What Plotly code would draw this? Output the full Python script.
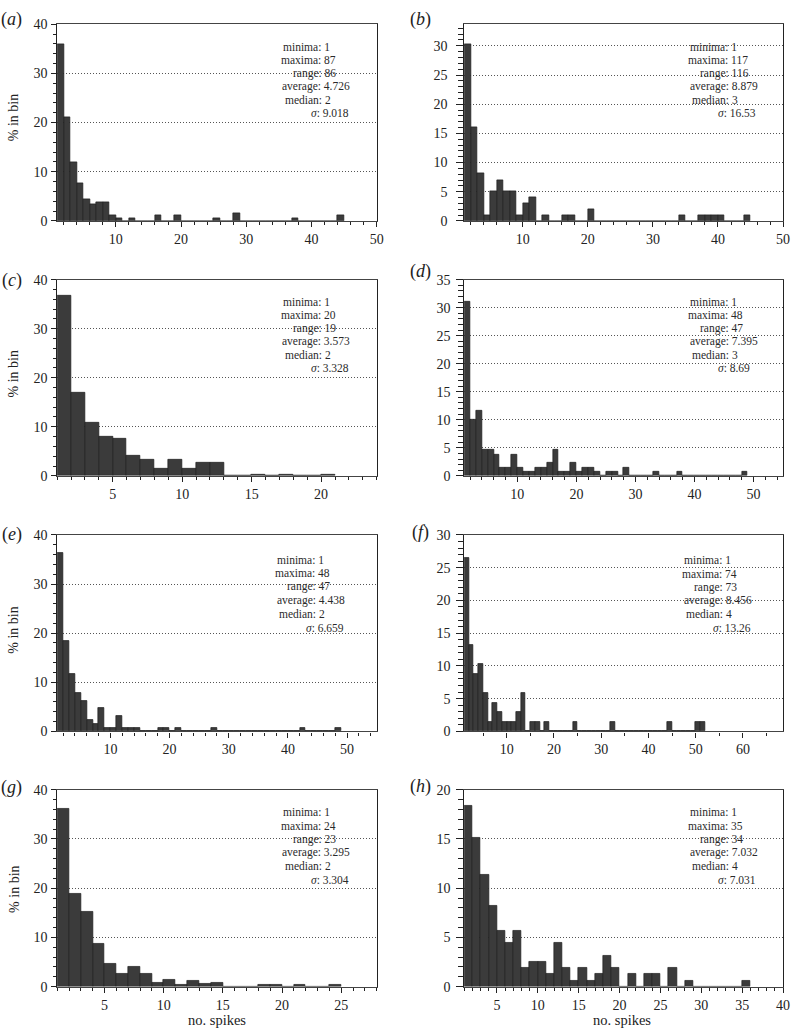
import plotly.graph_objects as go

# ---------------- data (percent of cells per spike-count bin, bins start at 1) ----------------
pct_a = [36, 21, 12, 7.6, 4.4, 3.3, 3.8, 3.8, 1.2, 0.55, 0, 0.55, 0, 0, 0, 1.1, 0, 0, 1.1,
         0, 0, 0, 0, 0, 0.55, 0, 0, 1.6, 0, 0, 0, 0, 0, 0, 0, 0, 0.55, 0, 0, 0, 0, 0, 0, 1.1]
pct_b = [30.2, 16.1, 8.1, 1, 5, 7, 5, 5, 1, 3, 4, 0, 1, 0, 0, 1, 1, 0, 0, 2,
         0, 0, 0, 0, 0, 0, 0, 0, 0, 0, 0, 0, 0, 1, 0, 0, 1, 1, 1, 1, 0, 0, 0, 1]
pct_c = [36.8, 16.9, 10.85, 7.9, 7.5, 4.15, 3.35, 1.47, 3.35, 1.47, 2.6, 2.6, 0, 0,
         0.33, 0, 0.33, 0, 0, 0.33]
pct_d = [31, 10, 11.7, 4.6, 4.6, 3.8, 1.5, 1.5, 3.8, 1.5, 0.77, 0.77, 1.5, 1.5, 2.3, 4.6,
         0.77, 0.77, 2.3, 0.77, 1.5, 1.5, 0.77, 0, 0.77, 0.77, 0, 1.5, 0, 0, 0, 0, 0.77,
         0, 0, 0, 0.77, 0, 0, 0, 0, 0, 0, 0, 0, 0, 0, 0.77]
pct_e = [36.3, 18.5, 11.6, 7.8, 6.2, 2.3, 1.55, 4.7, 0.78, 0.78, 3.1, 0.78, 0.78, 0.78,
         0, 0, 0, 0.78, 0.78, 0, 0.78, 0, 0, 0, 0, 0, 0.78, 0, 0, 0, 0, 0, 0, 0, 0, 0,
         0, 0, 0, 0, 0, 0.78, 0, 0, 0, 0, 0, 0.78]
pct_f = [26.5, 13.2, 8.8, 10.3, 5.9, 1.5, 4.4, 2.95, 1.5, 1.5, 1.5, 2.95, 5.9, 0, 1.5, 1.5,
         0, 1.5, 0, 0, 0, 0, 0, 1.5, 0, 0, 0, 0, 0, 0, 0, 1.5, 0, 0, 0, 0, 0, 0, 0, 0, 0,
         0, 0, 1.5, 0, 0, 0, 0, 0, 1.5, 1.5]
pct_g = [36.2, 18.8, 15.3, 8.8, 4.7, 2.6, 4.1, 2.6, 0.87, 1.47, 0.33, 1.13, 0.6, 0.87,
         0, 0, 0, 0.27, 0.27, 0, 0.27, 0, 0, 0.27]
pct_h = [18.33, 15.16, 11.39, 8.25, 5.68, 4.44, 5.68, 1.94, 2.57, 2.57, 1.3, 4.47, 1.94,
         0.63, 1.94, 0.63, 1.3, 3.17, 1.94, 0, 1.3, 0, 1.3, 1.3, 0, 1.94, 0, 0.63, 0, 0,
         0, 0, 0, 0, 0.63]

panel_letters = ["a", "b", "c", "d", "e", "f", "g", "h"]
series = [pct_a, pct_b, pct_c, pct_d, pct_e, pct_f, pct_g, pct_h]

stats_minima = ["1", "1", "1", "1", "1", "1", "1", "1"]
stats_maxima = ["87", "117", "20", "48", "48", "74", "24", "35"]
stats_range = ["86", "116", "19", "47", "47", "73", "23", "34"]
stats_average = ["4.726", "8.879", "3.573", "7.395", "4.438", "8.456", "3.295", "7.032"]
stats_median = ["2", "3", "2", "3", "2", "4", "2", "4"]
stats_sigma = ["9.018", "16.53", "3.328", "8.69", "6.659", "13.26", "3.304", "7.031"]

x_title = "no. spikes"
y_title = "% in bin"

# ---------------- layout / style ----------------
W, H = 799, 1036
COLX = [(57.7, 380.0), (468.3, 790.0)]
ROWY = [(17.5, 217.0), (276.7, 475.7), (535.7, 735.0), (794.3, 994.0)]

# per panel: xrange, x dtick, x minor, yrange, y dtick, y minor
axcfg = [
    ([1, 50], 10, 2, [0, 40], 10, 2),
    ([1, 50], 10, 2, [0, 33.7], 5, 1),
    ([1, 24], 5, 1, [0, 40], 10, 2),
    ([1, 55], 10, 2, [0, 35], 5, 1),
    ([1, 55], 10, 2, [0, 40], 10, 2),
    ([1, 68.5], 10, 5, [0, 30], 5, 1),
    ([1, 28], 5, 1, [0, 40], 10, 2),
    ([1, 40], 5, 1, [0, 20], 5, 1),
]
# stats text: base left offset (px from plot left), first-line offset from top, line spacing
textcfg = [(225, 23, 13.4), (225.5, 23, 13.4), (225, 22.5, 13.5), (225.5, 22.5, 13.5),
           (219.5, 25, 13.8), (219.5, 25.5, 13.7), (225, 22.5, 13.8), (225.5, 22.5, 13.8)]
line_dx = [0.7, -1.3, 10.5, 0, 2.3, 29]
label_pos = [(12, 13), (424, 13), (12, 278), (424, 268), (12, 535), (424, 533), (12, 792), (424, 791)]

FONT = "'Liberation Serif', 'Times New Roman', Times, serif"
TXT = "#222222"
BAR = "#3b3b3b"

fig = go.Figure()
layout = dict(
    width=W, height=H, margin=dict(l=0, r=0, t=0, b=0),
    paper_bgcolor="white", plot_bgcolor="white", showlegend=False,
    bargap=0, font=dict(family=FONT, size=14, color=TXT),
)
annotations = []

for i, (letter, pct) in enumerate(zip(panel_letters, series)):
    n = i + 1
    col, row = i % 2, i // 2
    x0, x1 = COLX[col]
    yt, yb = ROWY[row]
    pw, ph = x1 - x0, yb - yt
    xr, xdt, xmn, yr, ydt, ymn = axcfg[i]
    xname = "x" if n == 1 else f"x{n}"
    yname = "y" if n == 1 else f"y{n}"
    bins = list(range(1, len(pct) + 1))
    fig.add_trace(go.Bar(
        x=bins, y=pct, width=1, offset=0, xaxis=xname, yaxis=yname,
        marker=dict(color=BAR, line=dict(color="#1e1e1e", width=0.7)),
        hoverinfo="x+y",
    ))
    key = "" if n == 1 else str(n)
    layout["xaxis" + key] = dict(
        domain=[x0 / W, x1 / W], range=xr, anchor=yname,
        tickmode="linear", tick0=0, dtick=xdt,
        ticks="outside", ticklen=5, tickwidth=1, tickcolor="#222",
        minor=dict(tickmode="linear", tick0=0, dtick=xmn, ticks="outside",
                   ticklen=3, tickwidth=1, tickcolor="#222", showgrid=False),
        showline=True, linecolor="#444", linewidth=1.3, mirror=True,
        showgrid=False, zeroline=False, ticklabeloverflow="allow",
        tickfont=dict(family=FONT, size=14, color=TXT),
    )
    layout["yaxis" + key] = dict(
        domain=[1 - yb / H, 1 - yt / H], range=yr, anchor=xname,
        tickmode="linear", tick0=0, dtick=ydt,
        ticks="outside", ticklen=5 if col == 0 else 7, tickwidth=1, tickcolor="#222",
        minor=dict(tickmode="linear", tick0=0, dtick=ymn, ticks="outside",
                   ticklen=3 if col == 0 else 5, tickwidth=1, tickcolor="#222", showgrid=False),
        showline=True, linecolor="#222", linewidth=1, mirror=True,
        showgrid=True, gridcolor="#555555", griddash="1px,2px", gridwidth=1,
        zeroline=False, ticklabeloverflow="allow",
        ticklabelstandoff=1 if col == 0 else (6 if n == 2 else 3),
        tickfont=dict(family=FONT, size=14, color=TXT),
    )

    # statistics text block
    base, first, step = textcfg[i]
    lines = [
        f"minima: {stats_minima[i]}",
        f"maxima: {stats_maxima[i]}",
        f"range: {stats_range[i]}",
        f"average: {stats_average[i]}",
        f"median: {stats_median[i]}",
        f"<i>σ</i>: {stats_sigma[i]}",
    ]
    for k, t in enumerate(lines):
        annotations.append(dict(
            xref=f"{xname} domain", yref=f"{yname} domain",
            x=(base + line_dx[k]) / pw, y=1 - (first + k * step) / ph,
            xanchor="left", yanchor="middle", showarrow=False, text=t,
            font=dict(family=FONT, size=11.5, color="#2a2a2a"),
        ))

    # panel letter
    lx, ly = label_pos[i]
    annotations.append(dict(
        xref="paper", yref="paper", x=lx / W, y=1 - ly / H,
        xanchor="center", yanchor="middle", showarrow=False,
        text=f"(<i>{letter}</i>)", font=dict(family=FONT, size=18, color=TXT),
    ))

# y titles for left column
for (cy) in [112, 372, 632, 895]:
    annotations.append(dict(
        xref="paper", yref="paper", x=14 / W, y=1 - cy / H, textangle=-90,
        xanchor="center", yanchor="middle", showarrow=False, text=y_title,
        font=dict(family=FONT, size=14, color=TXT),
    ))
# x titles for bottom row
for cx in [219, 628]:
    annotations.append(dict(
        xref="paper", yref="paper", x=cx / W, y=1 - 1028 / H,
        xanchor="center", yanchor="middle", showarrow=False, text=x_title,
        font=dict(family=FONT, size=14.5, color=TXT),
    ))

layout["annotations"] = annotations
fig.update_layout(**layout)
fig.write_html(
    "out.html",
    config={"displayModeBar": False},
    post_script="document.documentElement.style.margin='0';document.body.style.margin='0';"
                "document.body.style.padding='0';document.body.style.overflow='hidden';",
)
